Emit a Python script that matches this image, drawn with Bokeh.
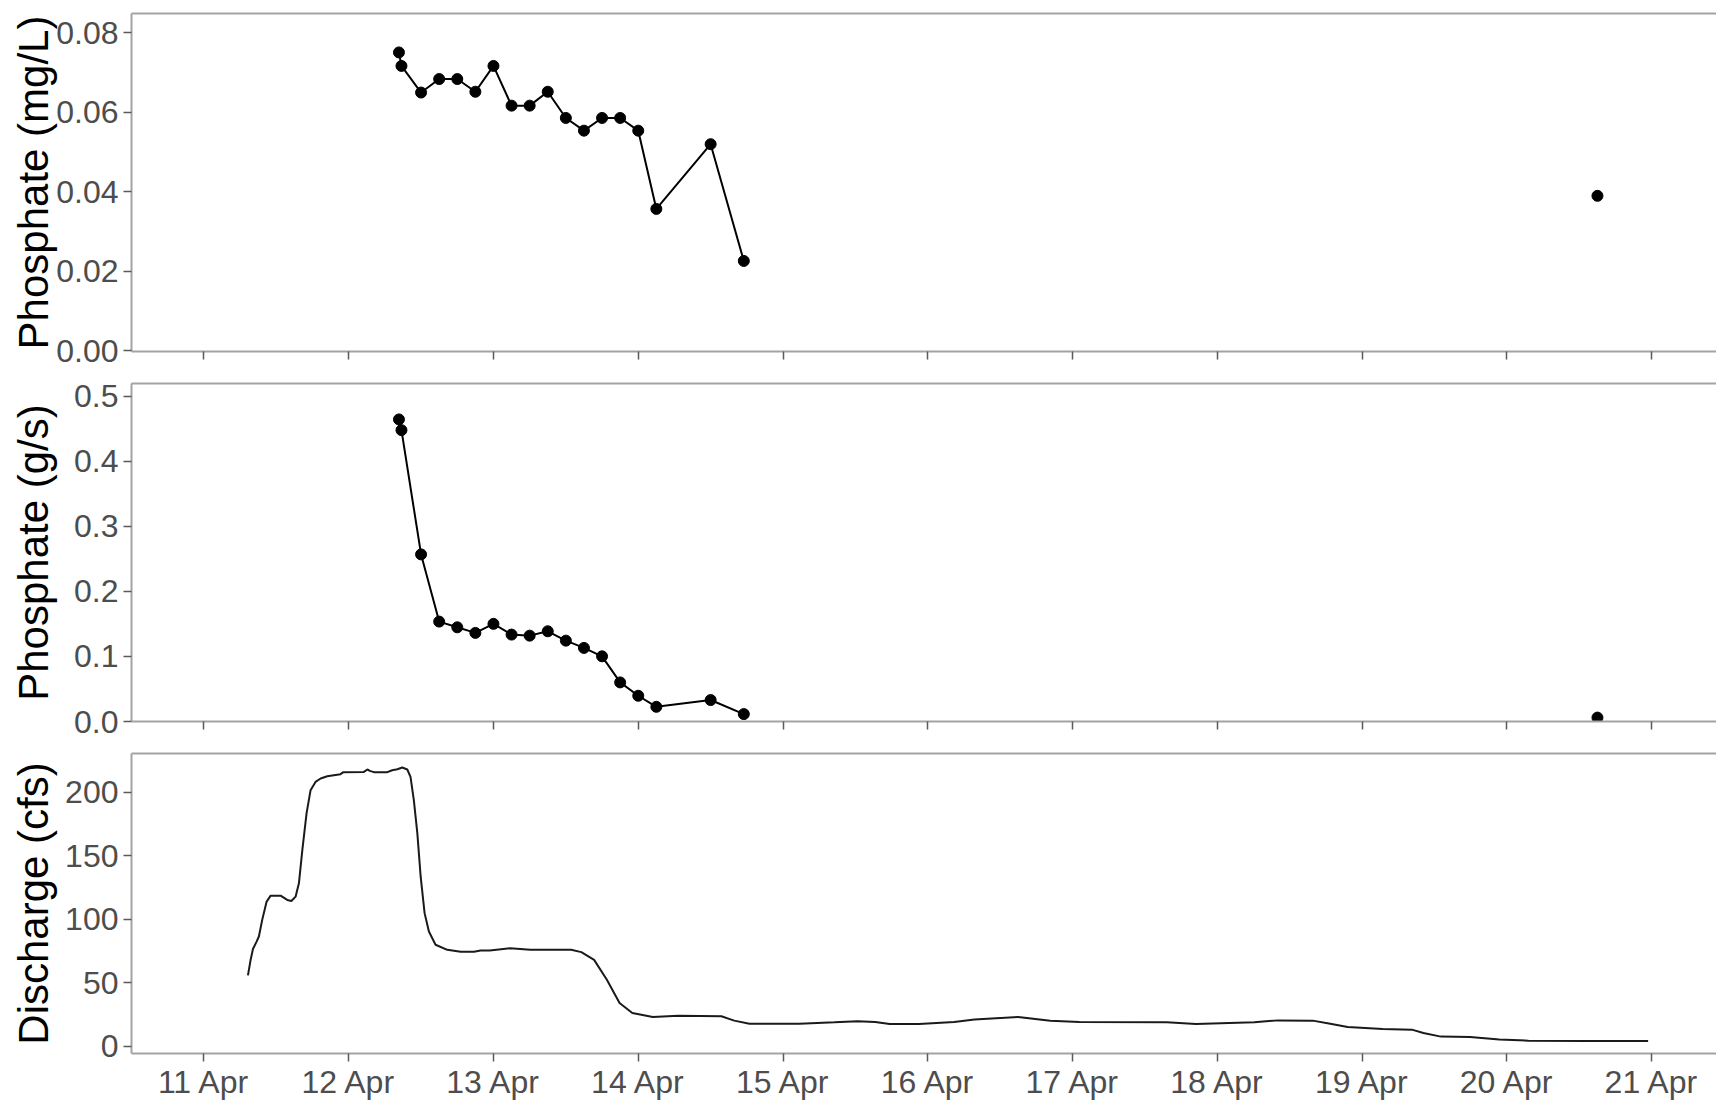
import pandas as pd
from bokeh.plotting import figure
from bokeh.layouts import column
from bokeh.models import (Range1d, FixedTicker, PrintfTickFormatter, DatetimeTickFormatter,
                          CustomJSTickFormatter, LinearAxis)
from bokeh.embed import file_html
from bokeh.resources import INLINE

# ---------------- data ----------------
sample_times = ["2019-04-12 08:20", "2019-04-12 08:45", "2019-04-12 12:00", "2019-04-12 15:00",
                "2019-04-12 18:00", "2019-04-12 21:00", "2019-04-13 00:00", "2019-04-13 03:00",
                "2019-04-13 06:00", "2019-04-13 09:00", "2019-04-13 12:00", "2019-04-13 15:00",
                "2019-04-13 18:00", "2019-04-13 21:00", "2019-04-14 00:00", "2019-04-14 03:00",
                "2019-04-14 12:00", "2019-04-14 17:30", "2019-04-20 15:00"]
phosphate_mgL = [0.0751, 0.0717, 0.0650, 0.0684, 0.0684, 0.0652, 0.0717, 0.0617, 0.0617, 0.0652,
                 0.0586, 0.0554, 0.0586, 0.0586, 0.0554, 0.0357, 0.0520, 0.0226, 0.0390]
phosphate_gs = [0.4644, 0.4479, 0.2569, 0.1536, 0.1448, 0.1362, 0.1501, 0.1336, 0.1320, 0.1387,
                0.1243, 0.1131, 0.1002, 0.0601, 0.0396, 0.0226, 0.0330, 0.0114, 0.0060]
n_connected = 18  # last sample is isolated (no line to it)

discharge_times = [
    "2019-04-11 07:18", "2019-04-11 07:45", "2019-04-11 08:08", "2019-04-11 08:44", "2019-04-11 09:07",
    "2019-04-11 09:40", "2019-04-11 10:24", "2019-04-11 11:04", "2019-04-11 12:43", "2019-04-11 13:49",
    "2019-04-11 14:30", "2019-04-11 15:12", "2019-04-11 15:45", "2019-04-11 16:19", "2019-04-11 17:01",
    "2019-04-11 17:41", "2019-04-11 18:30", "2019-04-11 19:21", "2019-04-11 20:27", "2019-04-11 22:39",
    "2019-04-11 23:07", "2019-04-12 02:31", "2019-04-12 03:06", "2019-04-12 03:30", "2019-04-12 04:11",
    "2019-04-12 06:24", "2019-04-12 07:13", "2019-04-12 08:04", "2019-04-12 08:53", "2019-04-12 09:43",
    "2019-04-12 10:15", "2019-04-12 10:48", "2019-04-12 11:23", "2019-04-12 11:56", "2019-04-12 12:35",
    "2019-04-12 13:18", "2019-04-12 14:24", "2019-04-12 16:21", "2019-04-12 18:33", "2019-04-12 20:46",
    "2019-04-12 21:52", "2019-04-12 23:23", "2019-04-13 02:46", "2019-04-13 06:07", "2019-04-13 12:53",
    "2019-04-13 14:34", "2019-04-13 16:41", "2019-04-13 18:48", "2019-04-13 20:54", "2019-04-13 23:01",
    "2019-04-14 02:25", "2019-04-14 06:37", "2019-04-14 13:47", "2019-04-14 15:55", "2019-04-14 18:26",
    "2019-04-15 02:43", "2019-04-15 08:31", "2019-04-15 12:23", "2019-04-15 15:17", "2019-04-15 17:41",
    "2019-04-15 22:32", "2019-04-16 04:21", "2019-04-16 07:44", "2019-04-16 14:57", "2019-04-16 20:18",
    "2019-04-17 01:08", "2019-04-17 15:37", "2019-04-17 20:27", "2019-04-18 06:07", "2019-04-18 10:00",
    "2019-04-18 15:49", "2019-04-18 18:42", "2019-04-18 21:36", "2019-04-19 03:24", "2019-04-19 08:14",
    "2019-04-19 10:09", "2019-04-19 13:03", "2019-04-19 17:53", "2019-04-19 22:44", "2019-04-20 03:33",
    "2019-04-20 13:13", "2019-04-20 23:24"]
discharge_cfs = [
    55.8, 68.2, 76.6, 82.5, 86.5, 99.6, 114.0, 118.7, 118.7, 115.3,
    114.5, 117.9, 128.4, 154.6, 183.5, 201.8, 208.3, 211.0, 212.8, 214.4,
    216.0, 216.2, 218.1, 217.0, 216.0, 216.0, 217.5, 218.3, 219.7, 218.1,
    212.3, 193.9, 167.8, 133.6, 104.9, 90.4, 80.0, 76.0, 74.4, 74.4,
    75.5, 75.5, 77.3, 76.0, 76.0, 74.2, 68.1, 52.4, 34.1, 26.2,
    23.1, 24.1, 23.6, 20.2, 17.8, 17.8, 18.9, 19.7, 19.1, 17.6,
    17.6, 19.1, 21.0, 23.1, 20.2, 19.1, 18.9, 17.6, 18.9, 20.4,
    20.2, 17.8, 15.2, 13.6, 13.1, 10.5, 7.6, 7.3, 5.4, 4.4,
    4.2, 4.2]

tick_days = ["2019-04-11", "2019-04-12", "2019-04-13", "2019-04-14", "2019-04-15", "2019-04-16",
             "2019-04-17", "2019-04-18", "2019-04-19", "2019-04-20", "2019-04-21"]
x_limits = ["2019-04-10 12:00", "2019-04-21 10:44"]

conc_ticks = [0.00, 0.02, 0.04, 0.06, 0.08]
load_ticks = [0.0, 0.1, 0.2, 0.3, 0.4, 0.5]
flow_ticks = [0, 50, 100, 150, 200]


def ms(values):
    return [pd.Timestamp(v).value / 1e6 for v in values]


st = pd.to_datetime(sample_times)
dt = pd.to_datetime(discharge_times)
xr = Range1d(start=ms([x_limits[0]])[0], end=ms([x_limits[1]])[0])

FONT = "Liberation Sans"
AXIS_GREY = "#a3a3a3"
TICK_GREY = "#5a5a5a"


def make_fig(height, top, bottom, y_start, y_end, yticks, fmt, ylabel, title_standoff, show_x):
    p = figure(width=1716, height=height, x_axis_type="datetime", x_range=xr,
               y_range=Range1d(y_start, y_end), output_backend="svg", toolbar_location=None,
               min_border_left=131, min_border_right=0, min_border_top=top,
               min_border_bottom=bottom)
    p.outline_line_color = None
    p.grid.visible = False
    p.background_fill_color = "white"
    p.border_fill_color = "white"

    ya = p.left[0]
    ya.ticker = FixedTicker(ticks=yticks)
    ya.formatter = PrintfTickFormatter(format=fmt)
    ya.axis_label = ylabel
    ya.axis_label_text_font = FONT
    ya.axis_label_text_font_size = "42px"
    ya.axis_label_text_font_style = "normal"
    ya.axis_label_text_color = "black"
    ya.axis_label_standoff = title_standoff
    ya.major_label_text_font = FONT
    ya.major_label_text_font_size = "32px"
    ya.major_label_text_color = "#4d4d4d"
    ya.major_label_standoff = 5
    ya.axis_line_color = AXIS_GREY
    ya.axis_line_width = 2
    ya.major_tick_line_color = TICK_GREY
    ya.major_tick_line_width = 1.5
    ya.major_tick_out = 8
    ya.major_tick_in = 0
    ya.minor_tick_line_color = None

    xa = p.below[0]
    xa.ticker = FixedTicker(ticks=ms(tick_days))
    xa.axis_line_color = AXIS_GREY
    xa.axis_line_width = 2
    xa.major_tick_line_color = TICK_GREY
    xa.major_tick_line_width = 1.5
    xa.major_tick_out = 8
    xa.major_tick_in = 0
    xa.minor_tick_line_color = None
    if show_x:
        xa.formatter = DatetimeTickFormatter(days="%d %b", months="%d %b", hours="%d %b",
                                             years="%d %b", context=None)
        xa.major_label_text_font = FONT
        xa.major_label_text_font_size = "32px"
        xa.major_label_text_color = "#4d4d4d"
        xa.major_label_standoff = 2
    else:
        xa.formatter = CustomJSTickFormatter(code="return ''")
        xa.major_label_text_font_size = "0px"
        xa.major_label_standoff = 0

    # top border drawn as a bare axis line
    top_ax = LinearAxis(ticker=FixedTicker(ticks=[]), axis_line_color=AXIS_GREY,
                        axis_line_width=2, major_tick_line_color=None,
                        minor_tick_line_color=None, major_label_text_font_size="0px")
    p.add_layout(top_ax, "above")
    return p


p1 = make_fig(373, 13, 22, -0.0002, 0.0849, conc_ticks, "%.2f", "Phosphate (mg/L)", -4, False)
p1.line(st[:n_connected], phosphate_mgL[:n_connected], line_color="black", line_width=2)
p1.scatter(st, phosphate_mgL, size=11, color="black")

p2 = make_fig(370, 10, 22, 0.0, 0.5196, load_ticks, "%.1f", "Phosphate (g/s)", 14, False)
p2.line(st[:n_connected], phosphate_gs[:n_connected], line_color="black", line_width=2)
p2.scatter(st, phosphate_gs, size=11, color="black")

p3 = make_fig(359, 10, 48, -5.7, 230.7, flow_ticks, "%d", "Discharge (cfs)", 5, True)
p3.line(dt, discharge_cfs, line_color="#1a1a1a", line_width=2)

layout = column(p1, p2, p3, spacing=0)
open("out.html", "w").write(file_html(layout, INLINE))
